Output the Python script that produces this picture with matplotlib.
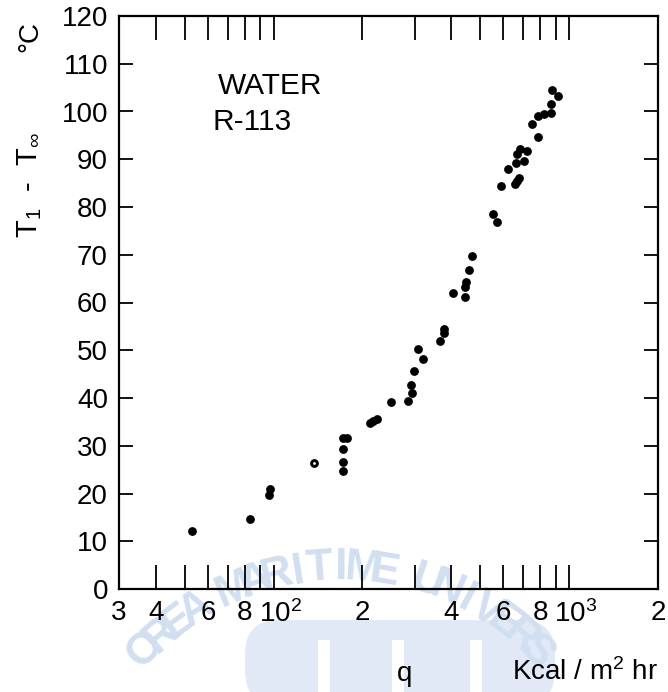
import matplotlib
matplotlib.use('Agg')
import matplotlib.pyplot as plt
import numpy as np
from matplotlib.ticker import FixedLocator, NullLocator
from matplotlib.patches import FancyBboxPatch, Rectangle
from matplotlib.transforms import ScaledTranslation

# ---- data ----
q = [52.8, 83.1, 97.1, 96.6, 137, 171.7, 177.2, 171.7, 171.7, 171.7,
     211.4, 216.9, 223.7, 250.3, 285.7, 293.8, 290.8, 298.4, 319.3, 307.8,
     367.3, 378, 378, 445.2, 404.2, 446, 448.6, 460, 471, 552.6,
     570.9, 586.5, 658.3, 668.5, 679, 623.4, 660.6, 702, 668.5, 681.6,
     719.7, 747.3, 787.2, 785.4, 825, 868.6, 870.6, 872.6, 917.6]
dT = [12.1, 14.7, 20.9, 19.7, 26.3, 31.6, 31.6, 29.3, 26.6, 24.8,
      34.7, 35.2, 35.6, 39.2, 39.4, 41.0, 42.7, 45.7, 48.2, 50.3,
      51.9, 53.7, 54.5, 61.1, 61.9, 63.3, 64.2, 66.9, 69.8, 78.5,
      76.9, 84.3, 84.8, 85.4, 86.0, 88.0, 89.2, 89.7, 91.2, 92.1,
      91.8, 97.3, 94.6, 99.1, 99.5, 99.7, 101.5, 104.4, 103.2]
open_idx = [4]

x_ticks = [30, 40, 50, 60, 70, 80, 90, 100, 200, 300, 400, 500, 600, 700, 800, 900, 1000, 2000]
x_labels = ['3', '4', '', '6', '', '8', '', r'$10^2$', '2', '', '4', '', '6', '', '8', '', r'$10^3$', '2']
y_ticks = list(range(0, 121, 10))
y_labels = [str(v) for v in y_ticks]

plt.rcParams['font.family'] = ['Liberation Sans', 'DejaVu Sans']
plt.rcParams['mathtext.fontset'] = 'custom'
plt.rcParams['mathtext.rm'] = 'Liberation Sans'
plt.rcParams['mathtext.it'] = 'Liberation Sans'
plt.rcParams['mathtext.bf'] = 'Liberation Sans:bold'

W, H = 668, 692
fig = plt.figure(figsize=(W / 100, H / 100), dpi=100)
fig.patch.set_facecolor('white')

def fx(px):
    return px / W

def fy(py):
    return 1 - py / H

# ---- faint watermark (visible part of the arc only) ----
wm = '#d2dff0'
cx, cy, R = 340, 840, 272
wtxt = "KOREA MARITIME UNIVERSITY"
for i, ch in enumerate(wtxt):
    if i < 1 or i > 21 or not ch.strip():
        continue
    a = -50.3 + 4.6 * i
    ar = np.radians(a)
    x = cx + R * np.sin(ar)
    y = cy - R * np.cos(ar)
    fig.text(fx(x), fy(y), ch, rotation=-a, ha='center', va='center',
             fontsize=32, fontweight='bold', color=wm, zorder=-5)
logo = FancyBboxPatch((fx(245), fy(705)), fx(310), (705 - 620) / H,
                      boxstyle='round,pad=0,rounding_size=0.05',
                      transform=fig.transFigure, facecolor='#e0e9f5',
                      edgecolor='none', zorder=-6)
fig.patches.append(logo)
for gx in (318, 392, 470):
    fig.patches.append(Rectangle((fx(gx), fy(705)), 12 / W, (705 - 640) / H,
                                 transform=fig.transFigure, facecolor='white',
                                 edgecolor='none', zorder=-5.5))

# ---- axes ----
ax = fig.add_axes([fx(119), fy(589), (658 - 119) / W, (589 - 16) / H])
ax.set_facecolor('none')
ax.set_xscale('log')
ax.set_xlim(30, 2000)
ax.set_ylim(0, 120)

ax.xaxis.set_major_locator(FixedLocator(x_ticks))
ax.xaxis.set_minor_locator(NullLocator())
ax.set_xticklabels(x_labels)
ax.set_yticks(y_ticks)
ax.set_yticklabels(y_labels)

ax.tick_params(axis='x', which='major', direction='in', length=17, width=1.3,
               top=True, labelsize=20, pad=8, colors='black')
ax.tick_params(axis='y', which='major', direction='in', length=10, width=1.3,
               right=True, labelsize=20, pad=8, colors='black')
for s in ax.spines.values():
    s.set_linewidth(1.6)

# shift the power-of-ten labels so that "10" sits centred on its tick
shift = ScaledTranslation(7 / 100, 0, fig.dpi_scale_trans)
for lab in ax.get_xticklabels():
    if '10' in lab.get_text():
        lab.set_transform(lab.get_transform() + shift)

ax.scatter(q, dT, s=40, color='black', zorder=3, linewidths=0)
ax.scatter([q[i] for i in open_idx], [dT[i] for i in open_idx], s=4,
           color='white', zorder=4, linewidths=0)

# ---- texts ----
fig.text(fx(270), fy(86), 'WATER', fontsize=21.5, ha='center', va='center')
fig.text(fx(252), fy(122), 'R-113', fontsize=21.5, ha='center', va='center')

fig.text(fx(30), fy(185), r'T$_1$  -  T$_\infty$', fontsize=21,
         rotation=90, ha='center', va='center')
fig.text(fx(30), fy(37), '°C', fontsize=20, rotation=90, ha='center', va='center')

fig.text(fx(405), fy(674), 'q', fontsize=20, ha='center', va='center')
fig.text(fx(585), fy(672), r'Kcal / m$^2$ hr', fontsize=20, ha='center', va='center')

fig.savefig('out.png', dpi=100, facecolor='white')
